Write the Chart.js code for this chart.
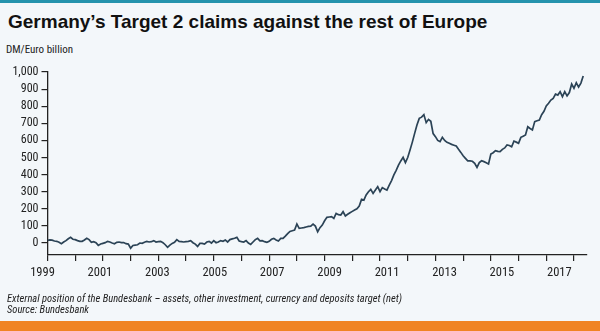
<!DOCTYPE html>
<html>
<head>
<meta charset="utf-8">
<script src="https://cdn.jsdelivr.net/npm/chart.js@4.4.0/dist/chart.umd.min.js"></script>
<style>
  html, body { margin: 0; padding: 0; }
  #wrap { position: relative; width: 600px; height: 331px; background: #f3f7fa; overflow: hidden; }
  #topBar { position: absolute; left: 0; top: 0; width: 600px; height: 3px; background: #2593ad; }
  #bottomBar { position: absolute; left: 0; top: 321px; width: 600px; height: 10px; background: #f08424; }
  #title { position: absolute; left: 8px; top: 12px; font: bold 19px/19px "Liberation Sans", Arial, sans-serif; color: #111; white-space: nowrap; }
  #unit { position: absolute; left: 6px; top: 44px; font: 11px/12px "Roboto Condensed", "Liberation Sans", sans-serif; color: #222; }
  #note { position: absolute; left: 7px; top: 294px; font: italic 10.5px/10.5px "Roboto Condensed", "Liberation Sans", sans-serif; color: #222; white-space: nowrap; }
  #chartBox { position: absolute; left: 0; top: 0; width: 600px; height: 331px; }
</style>
</head>
<body>
<div id="wrap">
  <div id="topBar"></div>
  <div id="title">Germany’s Target 2 claims against the rest of Europe</div>
  <div id="unit">DM/Euro billion</div>
  <div id="chartBox"><canvas id="chart"></canvas></div>
  <div id="note">External position of the Bundesbank – assets, other investment, currency and deposits target (net)<br>Source: Bundesbank</div>
  <div id="bottomBar"></div>
</div>
<script>
// monthly values, DM/Euro billion (Jan .. Dec)
const claims1999 = [16, 18, 17, 12, 10, 4, -4, 6, 14, 25, 33, 22];
const claims2000 = [20, 14, 10, 10, 18, 28, 20, 4, 8, 2, -14, -6];
const claims2001 = [-2, 2, 10, 6, 0, -4, 4, 6, 2, 3, -4, -6];
const claims2002 = [-30, -14, -12, -10, 0, -2, 4, 10, 6, 8, 14, 6];
const claims2003 = [8, 10, 2, -10, -25, -12, -2, 4, 20, 10, 8, 6];
const claims2004 = [8, 10, 14, 2, -6, -20, -2, -2, -6, 6, 10, 0];
const claims2005 = [14, 2, 6, 14, 10, 18, 6, 20, 24, 28, 33, 12];
const claims2006 = [8, 6, 14, 0, -8, 6, 20, 27, 13, 14, 8, 4];
const claims2007 = [10, 22, 27, 18, 12, 27, 27, 40, 55, 68, 72, 76];
const claims2008 = [111, 86, 88, 90, 94, 97, 99, 111, 99, 66, 90, 105];
const claims2009 = [130, 150, 152, 154, 144, 173, 166, 164, 183, 158, 168, 177];
const claims2010 = [185, 193, 200, 216, 255, 251, 281, 300, 314, 290, 310, 329];
const claims2011 = [300, 324, 316, 310, 339, 365, 398, 425, 456, 480, 501, 470];
const claims2012 = [500, 544, 590, 641, 690, 729, 736, 751, 704, 723, 712, 640];
const claims2013 = [622, 600, 593, 618, 600, 589, 583, 577, 572, 567, 548, 530];
const claims2014 = [510, 495, 480, 480, 478, 466, 442, 470, 481, 476, 470, 462];
const claims2015 = [520, 528, 540, 536, 534, 548, 556, 573, 570, 563, 596, 590];
const claims2016 = [583, 618, 625, 632, 680, 670, 661, 710, 715, 719, 750, 770];
const claims2017 = [801, 817, 836, 846, 871, 865, 885, 856, 885, 860, 880, 930];
const claims2018 = [905, 937, 912, 935, 976];

const years = [1999, 2000, 2001, 2002, 2003, 2004, 2005, 2006, 2007, 2008,
               2009, 2010, 2011, 2012, 2013, 2014, 2015, 2016, 2017, 2018];
const yearlyClaims = [claims1999, claims2000, claims2001, claims2002, claims2003,
                      claims2004, claims2005, claims2006, claims2007, claims2008,
                      claims2009, claims2010, claims2011, claims2012, claims2013,
                      claims2014, claims2015, claims2016, claims2017, claims2018];

const yearTicks = years;                                   // tick marks every year
const yearLabels = [1999, 2001, 2003, 2005, 2007, 2009, 2011, 2013, 2015, 2017];
const valueTicks = [0, 100, 200, 300, 400, 500, 600, 700, 800, 900, 1000];

const CONDENSED = "'Roboto Condensed', 'Liberation Sans', sans-serif";
const INK = "#222";

const points = [];
years.forEach((yr, i) => {
  yearlyClaims[i].forEach((v, m) => points.push({ x: yr + m / 12, y: v }));
});

function setTicks(list) {
  return (scale) => { scale.ticks = list.map((v) => ({ value: v })); };
}

new Chart(document.getElementById("chart"), {
  type: "line",
  data: {
    datasets: [{
      label: "Target 2 claims",
      data: points,
      borderColor: "#2b4356",
      borderWidth: 1.7,
      pointRadius: 0,
      tension: 0,
      fill: false,
    }],
  },
  options: {
    responsive: true,
    maintainAspectRatio: false,
    animation: false,
    layout: { padding: { top: 72, right: 13, bottom: 53, left: 0 } },
    plugins: { legend: { display: false }, tooltip: { enabled: false } },
    scales: {
      x: {
        type: "linear",
        position: "bottom",
        min: 1999,
        max: 2018.47,
        afterBuildTicks: setTicks(yearTicks),
        afterFit: (scale) => { scale.height = 3; },
        grid: { drawOnChartArea: false, drawTicks: true, tickLength: 6, color: INK, lineWidth: 1.2 },
        border: { display: true, color: INK, width: 1.3 },
        ticks: { display: false },
      },
      // second bottom axis only carries the year labels (they sit slightly off the tick marks)
      xLabels: {
        type: "linear",
        position: "bottom",
        min: 1999,
        max: 2017.79,
        afterBuildTicks: setTicks(yearLabels),
        afterFit: (scale) => { scale.height = 20; },
        grid: { display: false, drawTicks: false },
        border: { display: false },
        ticks: {
          autoSkip: false,
          maxRotation: 0,
          labelOffset: -5,
          padding: 7,
          color: INK,
          font: { family: CONDENSED, size: 12.5 },
          callback: (v) => String(v),
        },
      },
      y: {
        type: "linear",
        position: "left",
        min: -70,
        max: 1000,
        afterBuildTicks: setTicks(valueTicks),
        afterFit: (scale) => { scale.width = 47.5; },
        grid: { drawOnChartArea: false, drawTicks: true, tickLength: 6, color: INK, lineWidth: 1.2 },
        border: { display: true, color: INK, width: 1.3 },
        ticks: {
          padding: 3,
          color: INK,
          font: { family: CONDENSED, size: 12 },
          callback: (v) => v.toLocaleString("en-US"),
        },
      },
    },
  },
});
</script>
</body>
</html>
